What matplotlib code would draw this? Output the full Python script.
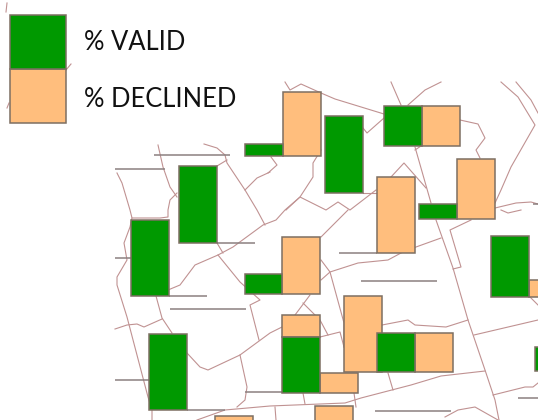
import matplotlib.pyplot as plt
import numpy as np

# everything, in image pixels
labels = ["% VALID", "% DECLINED"]

valid_left = [245, 325, 384, 419, 179, 131, 245, 491, 282, 377, 149, 535]
valid_right = [283, 363, 422, 457, 217, 169, 282, 529, 320, 415, 187, 542]
valid_top = [144, 116, 106, 204, 166, 220, 274, 236, 337, 333, 334, 347]
valid_bottom = [156, 193, 146, 219, 243, 296, 294, 297, 393, 372, 410, 371]

declined_left = [283, 422, 377, 457, 282, 529, 282, 344, 415, 320, 315, 215]
declined_right = [321, 460, 415, 495, 320, 542, 320, 382, 453, 358, 353, 253]
declined_top = [92, 106, 177, 159, 237, 280, 315, 296, 333, 373, 406, 416]
declined_bottom = [156, 146, 253, 219, 294, 297, 337, 372, 372, 393, 425, 425]

legend_left = [10, 10]
legend_right = [66, 66]
legend_top = [15, 69]
legend_bottom = [69, 123]

# zero-height prisms, only their outline shows
flat_x0 = [154, 115, 217, 115, 169, 170, 339, 361, 115, 187, 245, 375, 518, 533]
flat_x1 = [230, 165, 255, 136, 207, 246, 377, 437, 158, 225, 282, 451, 538, 538]
flat_y = [155, 169, 243, 258, 296, 309, 253, 281, 380, 410, 392, 411, 398, 204]

roads = [
    [(158, 145), (163, 167), (170, 187), (177, 197)],
    [(204, 144), (217, 148), (225, 155), (227, 163), (245, 190), (257, 210), (265, 225)],
    [(227, 160), (217, 166)],
    [(245, 190), (257, 178), (270, 172)],
    [(117, 173), (122, 183), (130, 210), (132, 218), (130, 227), (124, 243), (127, 260),
     (117, 277), (117, 285), (127, 317), (148, 397), (152, 410), (152, 420)],
    [(177, 193), (170, 200), (168, 210), (168, 217), (160, 218), (132, 218)],
    [(168, 290), (180, 285), (195, 265), (218, 255), (233, 247), (263, 225), (276, 220),
     (285, 210), (300, 197), (313, 177), (313, 163), (321, 150)],
    [(218, 255), (240, 282), (260, 300), (250, 305), (259, 340)],
    [(217, 243), (223, 253)],
    [(156, 296), (162, 318), (172, 333)],
    [(115, 329), (127, 325), (137, 324), (144, 327), (162, 319)],
    [(187, 353), (200, 367), (208, 370), (240, 355), (270, 333), (282, 327)],
    [(240, 355), (247, 387), (245, 400), (237, 407)],
    [(197, 420), (225, 410), (270, 406), (345, 403), (361, 398), (411, 385), (441, 376), (485, 371)],
    [(436, 220), (453, 268), (468, 320), (485, 370), (495, 400), (499, 420)],
    [(471, 220), (450, 230), (461, 267), (453, 269)],
    [(441, 238), (416, 247), (401, 253), (388, 260), (358, 263), (330, 272), (321, 280)],
    [(321, 260), (330, 272), (344, 323), (344, 347)],
    [(310, 295), (295, 315)],
    [(303, 303), (320, 320), (328, 335)],
    [(320, 337), (340, 332), (344, 347)],
    [(382, 325), (408, 320), (415, 325), (446, 327), (468, 320)],
    [(474, 335), (538, 320)],
    [(388, 373), (393, 390)],
    [(493, 395), (525, 387), (533, 387), (538, 383)],
    [(303, 393), (305, 404)],
    [(354, 393), (356, 407)],
    [(275, 407), (276, 420)],
    [(445, 417), (458, 410), (475, 407), (498, 420)],
    [(501, 82), (518, 97), (535, 125), (511, 167), (501, 190), (495, 203)],
    [(516, 82), (531, 100), (538, 113)],
    [(495, 208), (516, 203), (531, 202), (538, 204)],
    [(285, 82), (290, 90), (301, 84), (321, 93), (335, 99), (384, 114)],
    [(384, 118), (367, 133), (363, 128)],
    [(391, 82), (401, 105)],
    [(408, 105), (425, 90), (441, 82)],
    [(460, 120), (478, 124), (485, 138), (476, 150), (480, 158)],
    [(415, 147), (431, 203)],
    [(415, 150), (421, 146)],
    [(391, 177), (404, 163), (426, 188)],
    [(363, 193), (378, 193)],
    [(376, 190), (350, 210), (338, 202), (326, 210), (300, 197), (286, 210)],
    [(268, 173), (277, 165), (271, 157)],
    [(321, 237), (331, 227), (348, 210)],
    [(501, 210), (508, 213), (521, 210)],
    [(530, 297), (538, 305)],
    [(7, 3), (6, 12)],
    [(66, 70), (71, 64)],
    [(9, 103), (7, 108)],
]

GREEN = "#009900"
PEACH = "#ffbe7d"
EDGE = "#7d6f62"
ROAD = "#c09292"


def prisms(ax, left, right, top, bottom, color):
    left, right = np.array(left), np.array(right)
    top, bottom = np.array(top), np.array(bottom)
    ax.bar(left, bottom - top, right - left, top, align="edge",
           color=color, edgecolor=EDGE, linewidth=1.1, zorder=3)


plt.rcParams["font.family"] = ["Lato", "DejaVu Sans"]
fig = plt.figure(figsize=(5.38, 4.2), dpi=100)
ax = fig.add_axes([0, 0, 1, 1])
ax.set_xlim(0, 538)
ax.set_ylim(420, 0)
ax.axis("off")

for road in roads:
    xs, ys = zip(*road)
    ax.plot(xs, ys, color=ROAD, linewidth=0.8, zorder=1)
ax.hlines(flat_y, flat_x0, flat_x1, color="#8c8080", linewidth=1.1, zorder=2)

# declined first, the green sits on top where they touch
prisms(ax, declined_left, declined_right, declined_top, declined_bottom, PEACH)
prisms(ax, valid_left, valid_right, valid_top, valid_bottom, GREEN)
prisms(ax, legend_left[1:], legend_right[1:], legend_top[1:], legend_bottom[1:], PEACH)
prisms(ax, legend_left[:1], legend_right[:1], legend_top[:1], legend_bottom[:1], GREEN)

ax.text(84, 43, labels[0], fontsize=18.4, color="#111111", va="center", ha="left")
ax.text(84, 99.5, labels[1], fontsize=18.4, color="#111111", va="center", ha="left")

fig.savefig("out.png", dpi=100)
